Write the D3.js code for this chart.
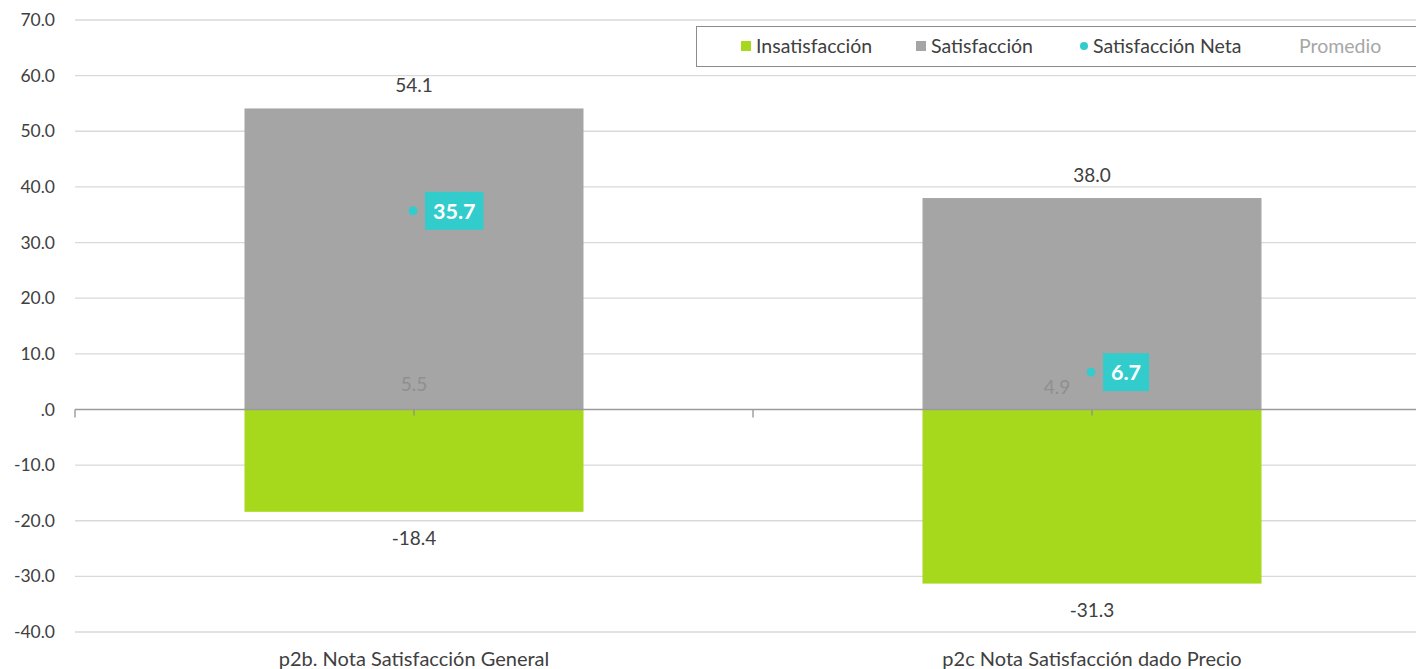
<!DOCTYPE html>
<html><head><meta charset="utf-8">
<script src="https://cdn.jsdelivr.net/npm/d3@7"></script>
<style>body{margin:0;background:#fff}svg{display:block}text{font-family:Lato,"Open Sans",sans-serif}</style>
</head><body><svg id="c" width="1416" height="669"></svg>
<script>
const categories = ["p2b. Nota Satisfacción General", "p2c Nota Satisfacción dado Precio"];
const insatisfaccion = [-18.4, -31.3];
const satisfaccion = [54.1, 38.0];
const satisfaccionNeta = [35.7, 6.7];
const promedio = [5.5, 4.9];
const yTicks = [-40, -30, -20, -10, 0, 10, 20, 30, 40, 50, 60, 70];
const legendItems = ["Insatisfacción", "Satisfacción", "Satisfacción Neta", "Promedio"];

const colors = {ins: "#A6D91C", sat: "#A5A5A5", net: "#33CCCC", text: "#404040"};
const svg = d3.select("#c");
const y = d3.scaleLinear().domain([-40, 70]).range([632, 20]);
const x = d3.scaleBand().domain(categories).range([75, 1431]).padding(0);
const bw = x.bandwidth() * 0.5;
const cx = c => x(c) + x.bandwidth() / 2;
const fmt = v => v === 0 ? ".0" : d3.format(".1f")(v).replace("\u2212", "-");

// gridlines
svg.append("g").selectAll("line").data(yTicks.filter(t => t !== 0)).join("line")
  .attr("x1", 75).attr("x2", 1416).attr("y1", d => y(d)).attr("y2", d => y(d))
  .attr("stroke", "#d9d9d9").attr("stroke-width", 1.3);

// y axis labels
svg.append("g").selectAll("text").data(yTicks).join("text")
  .attr("x", 55).attr("y", d => y(d)).attr("dy", "0.35em").attr("text-anchor", "end")
  .attr("font-size", 17.5).attr("fill", colors.text).text(fmt);

// bars
svg.append("g").selectAll("rect").data(categories).join("rect")
  .attr("x", c => cx(c) - bw / 2).attr("width", bw)
  .attr("y", (c, i) => y(satisfaccion[i])).attr("height", (c, i) => y(0) - y(satisfaccion[i]))
  .attr("fill", colors.sat);
svg.append("g").selectAll("rect").data(categories).join("rect")
  .attr("x", c => cx(c) - bw / 2).attr("width", bw)
  .attr("y", y(0)).attr("height", (c, i) => y(insatisfaccion[i]) - y(0))
  .attr("fill", colors.ins);

// zero axis
svg.append("line").attr("x1", 75).attr("x2", 1416).attr("y1", y(0)).attr("y2", y(0))
  .attr("stroke", "#9a9a9a").attr("stroke-width", 1.6);
const tickXs = [x.range()[0]].concat(categories.map(c => x(c) + x.bandwidth()));
svg.append("g").selectAll("line").data(tickXs).join("line")
  .attr("x1", d => d).attr("x2", d => d).attr("y1", y(0)).attr("y2", y(0) + 8)
  .attr("stroke", "#9a9a9a").attr("stroke-width", 1.4);
svg.append("g").selectAll("line").data(categories).join("line")
  .attr("x1", c => cx(c)).attr("x2", c => cx(c)).attr("y1", y(0)).attr("y2", y(0) + 6)
  .attr("stroke", "#8c8c8c").attr("stroke-width", 1.2);

// category labels
svg.append("g").selectAll("text").data(categories).join("text")
  .attr("x", c => cx(c)).attr("y", 666).attr("text-anchor", "middle")
  .attr("font-size", 20).attr("fill", colors.text).text(c => c);

// data labels
svg.append("g").selectAll("text").data(categories).join("text")
  .attr("x", c => cx(c)).attr("y", (c, i) => y(satisfaccion[i]) - 23).attr("dy", "0.35em")
  .attr("text-anchor", "middle").attr("font-size", 19).attr("fill", colors.text)
  .text((c, i) => fmt(satisfaccion[i]));
svg.append("g").selectAll("text").data(categories).join("text")
  .attr("x", c => cx(c)).attr("y", (c, i) => y(insatisfaccion[i]) + 27).attr("dy", "0.35em")
  .attr("text-anchor", "middle").attr("font-size", 19).attr("fill", colors.text)
  .text((c, i) => fmt(insatisfaccion[i]));

// promedio labels
const promDx = [0, -35];
svg.append("g").selectAll("text").data(categories).join("text")
  .attr("x", (c, i) => cx(c) + promDx[i]).attr("y", (c, i) => y(promedio[i]) + 5).attr("dy", "0.35em")
  .attr("text-anchor", "middle").attr("font-size", 19).attr("fill", "#8f8f8f")
  .text((c, i) => fmt(promedio[i]));

// net points + labels
const net = svg.append("g");
net.selectAll("circle").data(categories).join("circle")
  .attr("cx", c => cx(c) - 1).attr("cy", (c, i) => y(satisfaccionNeta[i]))
  .attr("r", 4.5).attr("fill", colors.net);
categories.forEach((c, i) => {
  const g = net.append("g");
  const left = cx(c) + 11;
  const t = g.append("text").attr("x", left + 8).attr("y", y(satisfaccionNeta[i])).attr("dy", "0.36em")
    .attr("text-anchor", "start").attr("font-size", 21.5).attr("font-weight", "bold")
    .attr("fill", "#fff").text(fmt(satisfaccionNeta[i]));
  const b = t.node().getBBox();
  g.insert("rect", "text").attr("x", left).attr("y", y(satisfaccionNeta[i]) - 19)
    .attr("width", b.width + 16).attr("height", 38).attr("fill", colors.net);
});

// legend
const lg = svg.append("g");
lg.append("rect").attr("x", 696.5).attr("y", 26.5).attr("width", 740).attr("height", 40)
  .attr("fill", "#fff").attr("stroke", "#8c8c8c").attr("stroke-width", 1);
const lx = [741, 916, 1081, 1299];
const ly = 46;
lg.append("rect").attr("x", lx[0]).attr("y", ly - 5).attr("width", 10).attr("height", 10).attr("fill", colors.ins);
lg.append("rect").attr("x", lx[1]).attr("y", ly - 5).attr("width", 10).attr("height", 10).attr("fill", colors.sat);
lg.append("circle").attr("cx", lx[2] + 3).attr("cy", ly).attr("r", 4).attr("fill", colors.net);
lg.selectAll("text").data(legendItems).join("text")
  .attr("x", (d, i) => i === 3 ? lx[3] : lx[i] + (i === 2 ? 12 : 15))
  .attr("y", ly).attr("dy", "0.35em").attr("font-size", 19.5)
  .attr("fill", (d, i) => i === 3 ? "#a6a6a6" : colors.text).text(d => d);
</script></body></html>
